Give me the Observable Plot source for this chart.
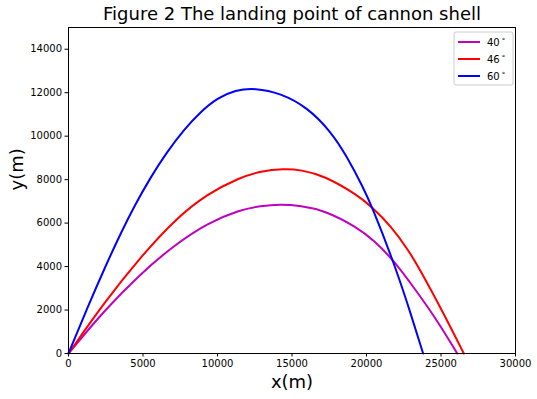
<!DOCTYPE html>
<html>
<head>
<meta charset="utf-8">
<script src="https://cdn.jsdelivr.net/npm/d3@7"></script>
<script src="https://cdn.jsdelivr.net/npm/@observablehq/plot@0.6"></script>
<style>
  html, body { margin: 0; padding: 0; background: #fff; }
  svg { font-family: "DejaVu Sans", sans-serif; }
</style>
</head>
<body>
<div id="chart"></div>
<script>
const title = "Figure 2 The landing point of cannon shell";
const angles = ["40", "46", "60"];
const colors = ["#bf00bf", "#ff0000", "#0000ff"];
const xTicks = [0, 5000, 10000, 15000, 20000, 25000, 30000];
const yTicks = [0, 2000, 4000, 6000, 8000, 10000, 12000, 14000];

const x40 = [0, 2400, 4830, 7070, 9310, 11540, 12890, 14200, 15600, 17130, 19380, 20490, 21730, 23170, 24750, 26090];
const y40 = [0, 1980, 3670, 4970, 6000, 6620, 6790, 6870, 6800, 6600, 5810, 5200, 4360, 3050, 1520, 0];

const x46 = [0, 2400, 4830, 7070, 9310, 11540, 12890, 14450, 15600, 17130, 19380, 20380, 21610, 22840, 23740, 25190, 26530];
const y46 = [0, 2350, 4430, 6120, 7350, 8110, 8390, 8500, 8450, 8190, 7300, 6730, 5890, 4740, 3670, 1830, 0];

const x60 = [0, 1250, 2500, 3600, 4400, 5500, 6600, 7750, 8860, 10000, 11200, 12500, 14230, 16020, 17580, 18700, 19820, 20380, 21730, 22730, 23800];
const y60 = [0, 2080, 4050, 5670, 6760, 8100, 9260, 10300, 11120, 11760, 12120, 12220, 11980, 11330, 10240, 9060, 7580, 6730, 4370, 2360, 0];

const series = [[x40, y40], [x46, y46], [x60, y60]];
const data = series.flatMap(([xs, ys], i) => xs.map((x, j) => ({angle: angles[i], x, y: ys[j]})));

const plot = Plot.plot({
  width: 537,
  height: 399,
  marginLeft: 68,
  marginRight: 22,
  marginTop: 27,
  marginBottom: 46,
  style: {fontFamily: "DejaVu Sans, sans-serif", background: "#fff", color: "#000"},
  x: {domain: [0, 30000]},
  y: {domain: [0, 15000]},
  color: {domain: angles, range: colors},
  marks: [
    Plot.line(data, {x: "x", y: "y", z: "angle", stroke: "angle", strokeWidth: 2, curve: "basis"}),
    Plot.frame({stroke: "#000", strokeWidth: 1}),
    Plot.axisX({ticks: xTicks, tickFormat: d => String(d), tickSize: 3.5, tickPadding: 3, fontSize: 10, label: null, stroke: "#000"}),
    Plot.axisY({ticks: yTicks, tickFormat: d => String(d), tickSize: 3.5, tickPadding: 3, fontSize: 10, label: null, stroke: "#000"}),
    Plot.text([title], {frameAnchor: "top", lineAnchor: "middle", dy: -13, text: d => d, fontSize: 18, fill: "#000"}),
    Plot.text(["x(m)"], {frameAnchor: "bottom", lineAnchor: "middle", dy: 29, text: d => d, fontSize: 18, fill: "#000"}),
    Plot.text(["y(m)"], {frameAnchor: "left", lineAnchor: "middle", dx: -51, rotate: -90, text: d => d, fontSize: 18, fill: "#000"})
  ]
});

// legend (matplotlib style, upper right)
const svg = d3.select(plot);
const lg = svg.append("g").attr("transform", "translate(454,32)").attr("text-anchor", "start");
lg.append("rect").attr("width", 59).attr("height", 53).attr("rx", 2)
  .attr("fill", "#fff").attr("fill-opacity", 0.8).attr("stroke", "#cccccc");
angles.forEach((a, i) => {
  const yy = 10 + i * 17;
  lg.append("line").attr("x1", 4).attr("x2", 26).attr("y1", yy).attr("y2", yy)
    .attr("stroke", colors[i]).attr("stroke-width", 2);
  const t = lg.append("text").attr("x", 33).attr("y", yy).attr("dy", "0.35em")
    .attr("font-size", 10).attr("fill", "#000");
  t.append("tspan").text(a);
  t.append("tspan").attr("dx", 2).attr("dy", "-0.35em").attr("font-size", 7).text("°");
});

document.getElementById("chart").appendChild(plot);
</script>
</body>
</html>
